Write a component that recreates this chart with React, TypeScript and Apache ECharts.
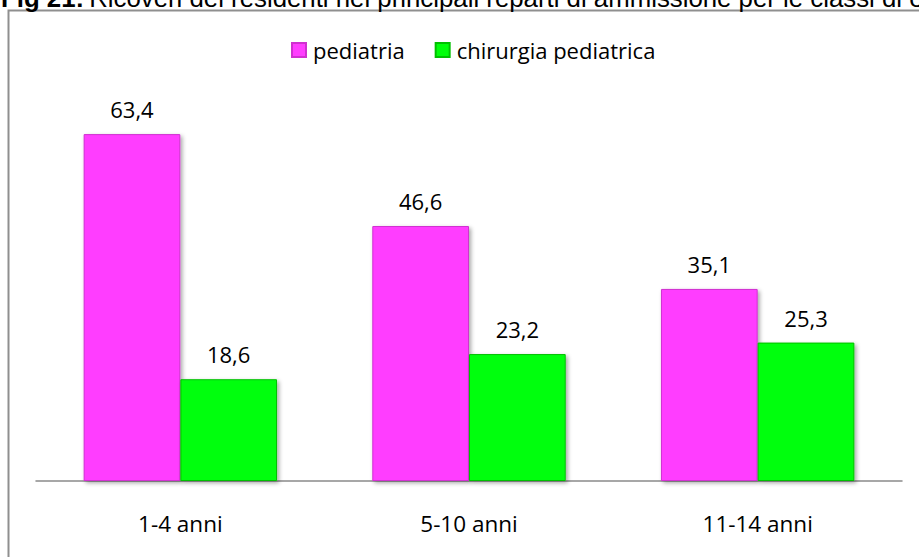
import React, { useEffect, useRef } from "react";
import * as echarts from "echarts";

const categories = ["1-4 anni", "5-10 anni", "11-14 anni"];
const pediatria = [63.4, 46.6, 35.1];
const chirurgiaPediatrica = [18.6, 23.2, 25.3];
const seriesNames = ["pediatria", "chirurgia pediatrica"];
const titleBold = "Fig 21:";
const titleRest = "Ricoveri dei residenti nei principali reparti di ammissione per le classi di età";

const FONT = "'Open Sans', sans-serif";

export default function App() {
  const ref = useRef<HTMLDivElement>(null);
  useEffect(() => {
    if (!ref.current) return;
    const chart = echarts.init(ref.current, null, { renderer: "svg" });
    const fmt = (p: any) => String(p.value).replace(".", ",");
    const barStyle = (color: string, border: string) => ({
      color,
      borderColor: border,
      borderWidth: 1,
      shadowColor: "rgba(0,0,0,0.35)",
      shadowBlur: 4,
      shadowOffsetX: 2,
      shadowOffsetY: 2,
    });
    chart.setOption({
      animation: false,
      backgroundColor: "#ffffff",
      title: {
        text: `{b|${titleBold}} {r|${titleRest}}`,
        left: 1,
        top: -17,
        padding: 0,
        textStyle: {
          rich: {
            b: { fontFamily: "'Liberation Sans', Arial, sans-serif", fontWeight: "bold", fontSize: 25.8, color: "#000", lineHeight: 30 },
            r: { fontFamily: "'Liberation Sans', Arial, sans-serif", fontWeight: "normal", fontSize: 25.8, color: "#000", lineHeight: 30 },
          },
        },
      },
      graphic: [
        {
          type: "rect",
          shape: { x: 8.5, y: 10.5, width: 1000, height: 700 },
          style: { fill: "none", stroke: "#8f8f8f", lineWidth: 2 },
          silent: true,
        },
      ],
      legend: {
        data: seriesNames,
        left: 286,
        top: 34,
        itemWidth: 14,
        itemHeight: 14,
        itemGap: 30,
        icon: "rect",
        textStyle: { fontFamily: FONT, fontSize: 22, color: "#000", padding: [0, 0, 0, 2] },
      },
      grid: { left: 36, right: 17, top: 98, bottom: 76, containLabel: false },
      xAxis: {
        type: "category",
        data: categories,
        axisLine: { show: true, lineStyle: { color: "#8a8a8a", width: 1.5 } },
        axisTick: { show: false },
        axisLabel: { fontFamily: FONT, fontSize: 22.5, color: "#000", margin: 31 },
      },
      yAxis: {
        type: "value",
        min: 0,
        max: 70,
        show: false,
        splitLine: { show: false },
      },
      series: [
        {
          name: seriesNames[0],
          type: "bar",
          data: pediatria,
          barGap: "0%",
          barCategoryGap: "33%",
          itemStyle: barStyle("#ff3dff", "#d030d0"),
          label: { show: true, position: "top", distance: 14, formatter: fmt, fontFamily: FONT, fontSize: 22, color: "#000" },
        },
        {
          name: seriesNames[1],
          type: "bar",
          data: chirurgiaPediatrica,
          barGap: "0%",
          barCategoryGap: "33%",
          itemStyle: barStyle("#00ff0a", "#00c000"),
          label: { show: true, position: "top", distance: 14, formatter: fmt, fontFamily: FONT, fontSize: 22, color: "#000" },
        },
      ],
    });
    return () => chart.dispose();
  }, []);
  return <div ref={ref} style={{ width: 919, height: 557, position: "absolute", left: 0, top: 0 }} />;
}
